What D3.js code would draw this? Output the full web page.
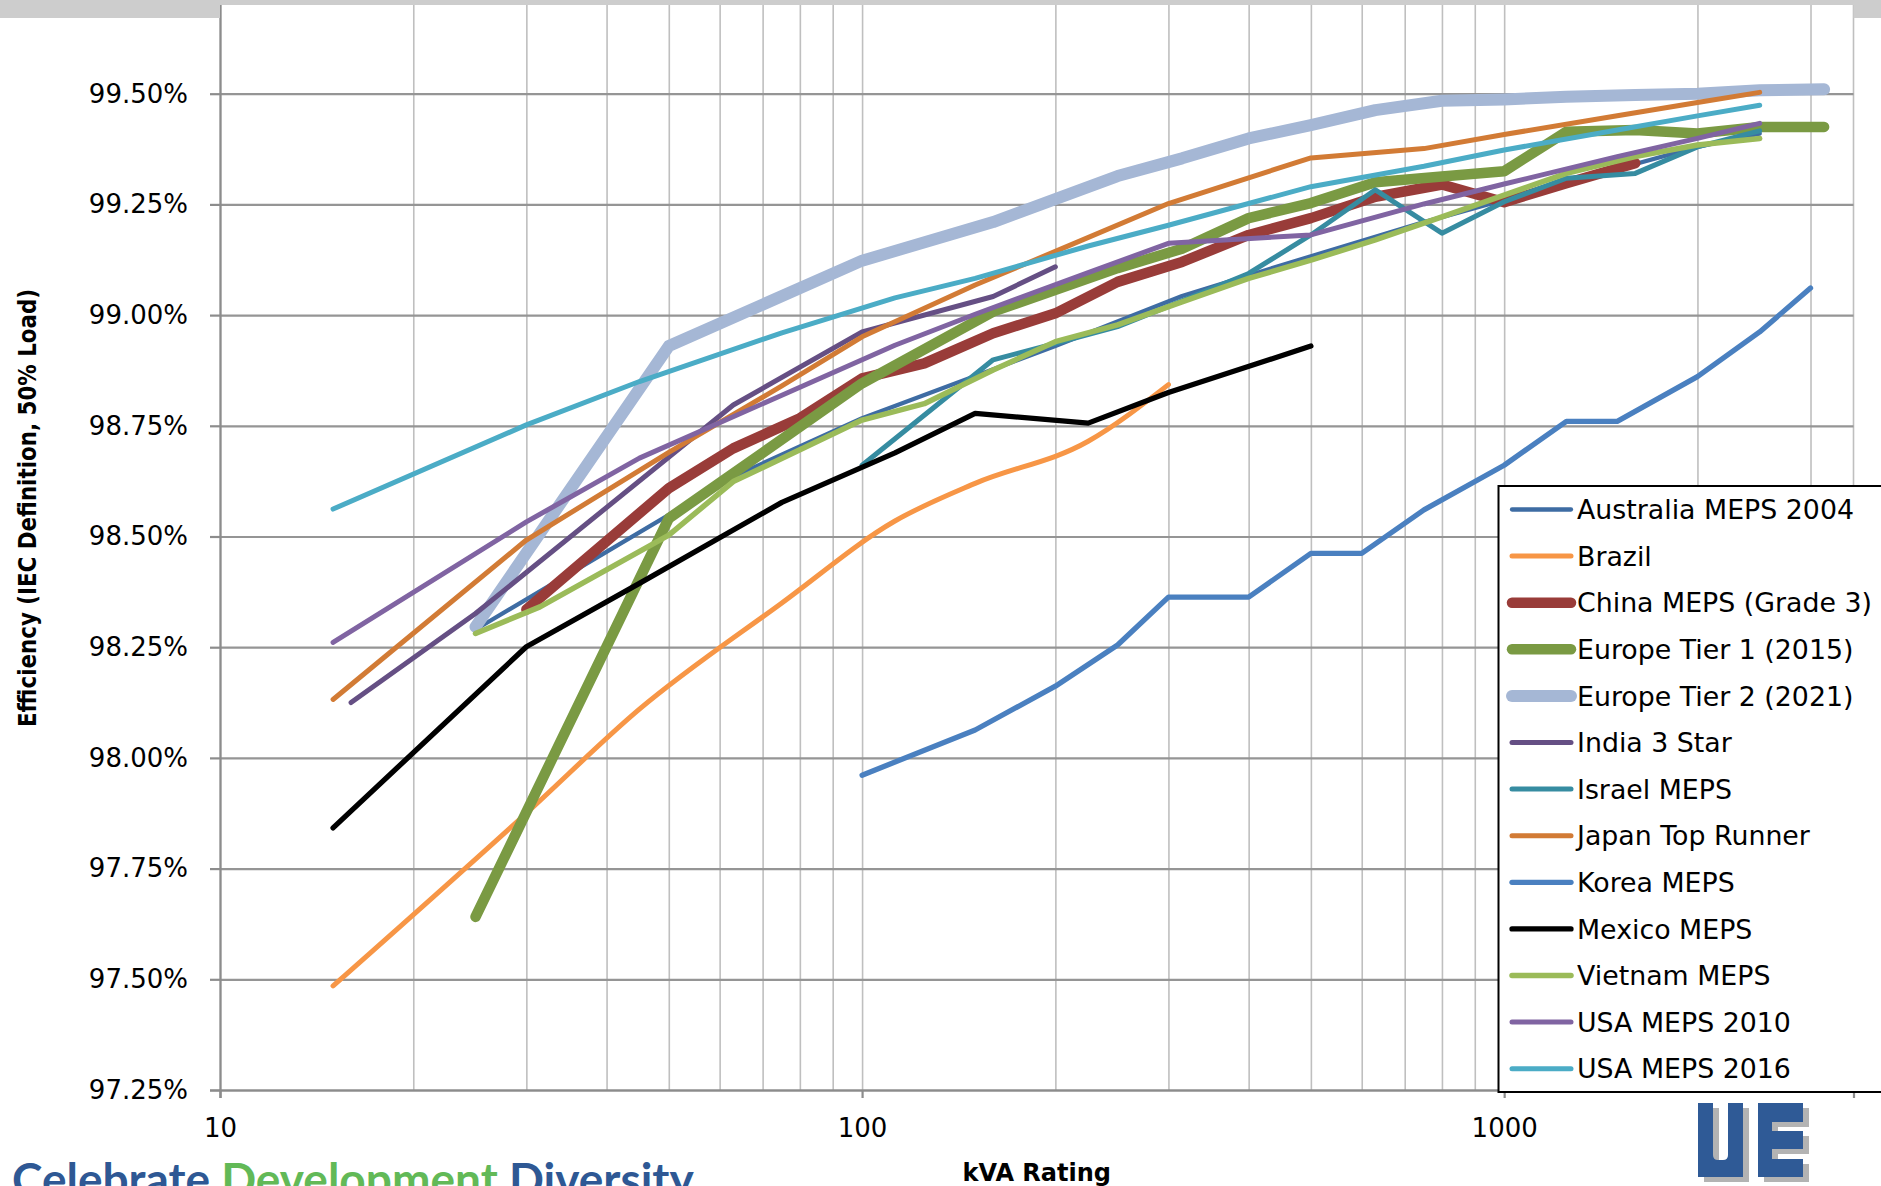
<!DOCTYPE html>
<html>
<head>
<meta charset="utf-8">
<script src="https://cdn.jsdelivr.net/npm/d3@7"></script>
<style>
  html, body { margin: 0; padding: 0; background: #fff; }
  svg { display: block; }
  text { font-family: "DejaVu Sans", Verdana, sans-serif; fill: #000; }
</style>
</head>
<body>
<div id="container"></div>
<script>
// kVA ratings and efficiency (%, IEC definition at 50% load) per standard
const australiaKva = [25, 63, 100, 200, 315, 500, 750, 1000, 1500, 2000, 2500];
const australiaEff = [98.29, 98.635, 98.767, 98.93, 99.043, 99.133, 99.21, 99.26, 99.33, 99.38, 99.41];

const brazilKva = [15, 30, 45, 75, 112.5, 150, 225, 300];
const brazilEff = [97.485, 97.875, 98.11, 98.35, 98.535, 98.62, 98.715, 98.843];

const chinaKva = [30, 50, 63, 80, 100, 125, 160, 200, 250, 315, 400, 500, 630, 800, 1000, 1250, 1600];
const chinaEff = [98.335, 98.609, 98.699, 98.767, 98.857, 98.891, 98.959, 99.004, 99.075, 99.12, 99.181, 99.219, 99.267, 99.295, 99.255, 99.298, 99.343];

const euroKva = [25, 50, 100, 160, 250, 315, 400, 500, 630, 800, 1000, 1250, 1600, 2000, 2500, 3150];
const euroTier1Eff = [97.641, 98.541, 98.846, 99.008, 99.106, 99.15, 99.219, 99.253, 99.30, 99.313, 99.325, 99.414, 99.418, 99.41, 99.425, 99.425];
const euroTier2Eff = [98.296, 98.93, 99.123, 99.21, 99.314, 99.354, 99.399, 99.429, 99.463, 99.484, 99.487, 99.493, 99.497, 99.50, 99.508, 99.51];

const indiaKva = [16, 25, 63, 100, 160, 200];
const indiaEff = [98.125, 98.326, 98.797, 98.962, 99.042, 99.109];

const israelKva = [100, 160, 200, 250, 315, 400, 500, 630, 800, 1000, 1250, 1600, 2000, 2500];
const israelEff = [98.661, 98.899, 98.936, 98.974, 99.032, 99.094, 99.181, 99.283, 99.185, 99.256, 99.309, 99.32, 99.38, 99.416];

const japanKva = [15, 30, 50, 75, 100, 150, 200, 300, 500, 750, 1000, 1500, 2000, 2500];
const japanEff = [98.132, 98.492, 98.69, 98.84, 98.951, 99.068, 99.144, 99.252, 99.355, 99.376, 99.408, 99.45, 99.48, 99.503];

const koreaKva = [100, 150, 200, 250, 300, 400, 500, 600, 750, 1000, 1250, 1500, 2000, 2500, 3000];
const koreaEff = [97.961, 98.063, 98.162, 98.255, 98.363, 98.363, 98.462, 98.462, 98.56, 98.661, 98.76, 98.76, 98.861, 98.962, 99.061];

const mexicoKva = [15, 30, 45, 75, 112.5, 150, 225, 300, 500];
const mexicoEff = [97.842, 98.251, 98.394, 98.577, 98.689, 98.778, 98.756, 98.825, 98.93];

const vietnamKva = [25, 31.5, 50, 63, 100, 125, 160, 200, 250, 315, 400, 500, 630, 800, 1000, 1250, 1600, 2000, 2500];
const vietnamEff = [98.281, 98.341, 98.503, 98.624, 98.763, 98.80, 98.876, 98.94, 98.978, 99.03, 99.083, 99.124, 99.17, 99.222, 99.271, 99.32, 99.358, 99.384, 99.399];

const usaKva = [15, 30, 45, 75, 112.5, 150, 225, 300, 500, 750, 1000, 1500, 2000, 2500];
const usa2010Eff = [98.261, 98.533, 98.677, 98.819, 98.932, 99.002, 99.096, 99.162, 99.181, 99.251, 99.296, 99.358, 99.399, 99.433];
const usa2016Eff = [98.562, 98.752, 98.85, 98.96, 99.039, 99.083, 99.156, 99.203, 99.29, 99.336, 99.373, 99.418, 99.45, 99.474];

const seriesNames = ["Australia MEPS 2004", "Brazil", "China MEPS (Grade 3)", "Europe Tier 1 (2015)",
  "Europe Tier 2 (2021)", "India 3 Star", "Israel MEPS", "Japan Top Runner", "Korea MEPS",
  "Mexico MEPS", "Vietnam MEPS", "USA MEPS 2010", "USA MEPS 2016"];

const yTicks = [97.25, 97.5, 97.75, 98, 98.25, 98.5, 98.75, 99, 99.25, 99.5];
const xLabelTicks = [10, 100, 1000];

// line styles, same order as seriesNames
const seriesStyle = [
  {color: "#3e6ca3", width: 4.3},
  {color: "#f79646", width: 5, smooth: true},
  {color: "#993c39", width: 10.5},
  {color: "#7a9a43", width: 10.5},
  {color: "#a5b7d5", width: 12},
  {color: "#654f84", width: 5},
  {color: "#368ca1", width: 5},
  {color: "#d27b35", width: 5},
  {color: "#4a80c0", width: 5.3},
  {color: "#000000", width: 5.3},
  {color: "#9bbb59", width: 5.5},
  {color: "#8064a2", width: 5},
  {color: "#4bacc6", width: 5}
];

const seriesData = [
  [australiaKva, australiaEff], [brazilKva, brazilEff], [chinaKva, chinaEff],
  [euroKva, euroTier1Eff], [euroKva, euroTier2Eff], [indiaKva, indiaEff],
  [israelKva, israelEff], [japanKva, japanEff], [koreaKva, koreaEff],
  [mexicoKva, mexicoEff], [vietnamKva, vietnamEff], [usaKva, usa2010Eff], [usaKva, usa2016Eff]
];

const series = seriesNames.map((name, i) => ({
  name: name,
  points: seriesData[i][0].map((k, j) => ({kva: k, eff: seriesData[i][1][j]})),
  ...seriesStyle[i]
}));

const W = 1881, H = 1186;
const plotLeft = 220, plotRight = 1853.5, plotTop = -17, plotBottom = 1090;

const svg = d3.select("#container").append("svg")
  .attr("width", W).attr("height", H);

const x = d3.scaleLog().domain([10, 3500]).range([plotLeft, plotRight]);
const y = d3.scaleLinear().domain([97.25, 99.75]).range([plotBottom, plotTop]);

// vertical grid (log minor + major)
const gridX = [];
[10, 100, 1000].forEach(d => { for (let m = 1; m < 10; m++) if (d * m <= 3500) gridX.push(d * m); });

svg.append("g")
  .attr("transform", `translate(0,${plotBottom})`)
  .call(d3.axisBottom(x).tickValues(gridX).tickSize(-(plotBottom - plotTop)).tickFormat(""))
  .call(g => g.select(".domain").remove())
  .call(g => g.selectAll("line").attr("stroke", "#bfbfbf").attr("stroke-width", 1.6));

svg.append("line")
  .attr("x1", plotRight).attr("x2", plotRight).attr("y1", plotTop).attr("y2", plotBottom)
  .attr("stroke", "#bfbfbf").attr("stroke-width", 1.6);

// horizontal grid
svg.append("g")
  .attr("transform", `translate(${plotLeft},0)`)
  .call(d3.axisLeft(y).tickValues(yTicks.concat([99.75])).tickSize(-(plotRight - plotLeft)).tickFormat(""))
  .call(g => g.select(".domain").remove())
  .call(g => g.selectAll("line").attr("stroke", "#959595").attr("stroke-width", 2.2));

// y axis
svg.append("g")
  .attr("transform", `translate(${plotLeft},0)`)
  .call(d3.axisLeft(y).tickValues(yTicks).tickSize(10).tickPadding(22)
    .tickFormat(d => d.toFixed(2) + "%"))
  .call(g => g.select(".domain").attr("stroke", "#8c8c8c").attr("stroke-width", 2.2))
  .call(g => g.selectAll("line").attr("stroke", "#8c8c8c").attr("stroke-width", 2.2))
  .call(g => g.selectAll("text").attr("font-size", 26).attr("font-family", "DejaVu Sans").attr("fill", "#000"));

// x axis
svg.append("g")
  .attr("transform", `translate(0,${plotBottom})`)
  .call(d3.axisBottom(x).tickValues(xLabelTicks).tickSize(8).tickPadding(21)
    .tickFormat(d3.format("d")))
  .call(g => g.select(".domain").attr("stroke", "#8c8c8c").attr("stroke-width", 2.2))
  .call(g => g.selectAll("line").attr("stroke", "#8c8c8c").attr("stroke-width", 2.2))
  .call(g => g.selectAll("text").attr("font-size", 26).attr("font-family", "DejaVu Sans").attr("fill", "#000"));

// series lines
const lineStraight = d3.line().x(d => x(d.kva)).y(d => y(d.eff));
const lineSmooth = d3.line().x(d => x(d.kva)).y(d => y(d.eff)).curve(d3.curveMonotoneX);

svg.append("g").selectAll("path")
  .data(series)
  .enter()
  .append("path")
  .attr("d", d => (d.smooth ? lineSmooth : lineStraight)(d.points))
  .attr("fill", "none")
  .attr("stroke", d => d.color)
  .attr("stroke-width", d => d.width)
  .attr("stroke-linecap", "round")
  .attr("stroke-linejoin", "round");

// legend
const legendX = 1498.5, legendTop = 486, legendBottom = 1092, rowGap = 46.6, firstRow = 509.5;
const legend = svg.append("g");
legend.append("rect")
  .attr("x", legendX).attr("y", legendTop)
  .attr("width", W - legendX + 10).attr("height", legendBottom - legendTop)
  .attr("fill", "#fff").attr("stroke", "#000").attr("stroke-width", 2);

const rows = legend.selectAll("g.row")
  .data(series)
  .enter()
  .append("g")
  .attr("class", "row")
  .attr("transform", (d, i) => `translate(0,${firstRow + i * rowGap})`);

rows.append("line")
  .attr("x1", 1512).attr("x2", 1571)
  .attr("stroke", d => d.color)
  .attr("stroke-width", d => d.width)
  .attr("stroke-linecap", "round");

rows.append("text")
  .attr("x", 1577)
  .attr("dy", "0.36em")
  .attr("font-size", 26.8)
  .text(d => d.name);

// axis titles
svg.append("text")
  .attr("x", (plotLeft + plotRight) / 2).attr("y", 1181)
  .attr("text-anchor", "middle")
  .attr("font-size", 24).attr("font-weight", "bold")
  .text("kVA Rating");

svg.append("text")
  .attr("transform", "translate(36,508) rotate(-90)")
  .attr("text-anchor", "middle")
  .attr("font-size", 24).attr("font-weight", "bold")
  .attr("textLength", 438).attr("lengthAdjust", "spacingAndGlyphs")
  .text("Efficiency (IEC Definition, 50% Load)");

// slide frame at the top
svg.append("rect").attr("x", 0).attr("y", 0).attr("width", W).attr("height", 5).attr("fill", "#cdcdcd");
svg.append("rect").attr("x", 0).attr("y", 0).attr("width", plotLeft).attr("height", 18).attr("fill", "#cdcdcd");
svg.append("rect").attr("x", plotRight).attr("y", 0).attr("width", W - plotRight).attr("height", 18).attr("fill", "#cdcdcd");

// footer slogan (cut by the bottom edge, as in the slide)
const slogan = svg.append("text")
  .attr("x", 12).attr("y", 1196)
  .attr("font-weight", 700).attr("font-size", 46)
  .style("font-family", "Lato, sans-serif");
slogan.append("tspan").attr("fill", "#2e5894").text("Celebrate ");
slogan.append("tspan").attr("fill", "#62b957").text("Development ");
slogan.append("tspan").attr("fill", "#2e5894").text("Diversity");

// UE logo
const logo = svg.append("g");
const uPath = "M0,0 H45 V74 H0 Z M15,0 V52 Q15,57 20,57 H25 Q30,57 30,52 V0 Z";
const ePath = "M60,0 H105 V19 H74 V28 H105 V46 H74 V56 H105 V74 H60 Z";
[[6, 5, "#b3b3b3"], [0, 0, "#2f5a96"]].forEach(([dx, dy, c]) => {
  const g = logo.append("g").attr("transform", `translate(${1698 + dx},${1103 + dy})`);
  g.append("path").attr("d", uPath).attr("fill", c).attr("fill-rule", "evenodd");
  g.append("path").attr("d", ePath).attr("fill", c);
});
</script>
</body>
</html>
